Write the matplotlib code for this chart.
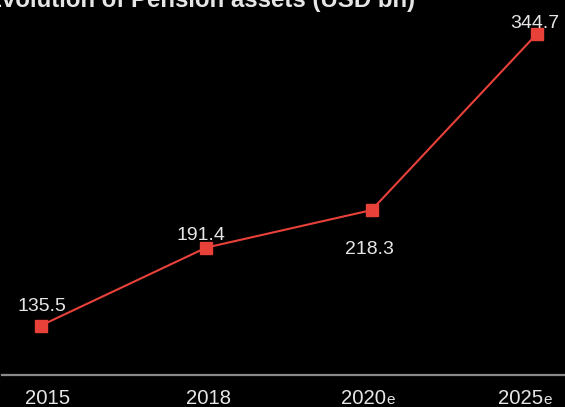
import matplotlib
matplotlib.use("Agg")
import matplotlib.pyplot as plt

years = ["2015", "2018", "2020", "2025"]
suffix = ["", "", "e", "e"]
values = [135.5, 191.4, 218.3, 344.7]
title = "Evolution of Pension assets (USD bn)"

# label offsets (points) relative to each marker: (dx, dy of baseline)
label_offsets = [(0.4, 10.1), (-3.6, 5.8), (-1.4, -31.7), (-1.8, 4.3)]
# tick label horizontal offsets (points) from the marker position
tick_dx = [4.7, 1.8, -6.1, -11.9]

W, H = 565, 407
fig = plt.figure(figsize=(W / 100, H / 100), dpi=100, facecolor="black")
ax = fig.add_axes([2 / W, (H - 375) / H, 1 - 2 / W, 375 / H])
ax.set_facecolor("black")

xs = list(range(len(values)))
red = "#e8413a"
txt = "#e6e6e6"
ax.plot(xs, values, color=red, lw=1.5, marker="s", ms=9, mec=red, mfc=red, zorder=3)

ax.set_xlim(-0.236, 3.17)
ax.set_ylim(100, 369)

for x, v, (dx, dy) in zip(xs, values, label_offsets):
    ax.annotate(f"{v:.1f}", (x, v), xytext=(dx, dy), textcoords="offset points",
                ha="center", va="baseline", color=txt, fontsize=14,
                family="Liberation Sans", zorder=4)

for s in ["top", "right", "left"]:
    ax.spines[s].set_visible(False)
ax.spines["bottom"].set_color("#8a8a8a")
ax.spines["bottom"].set_linewidth(1.6)
ax.set_yticks([])
ax.set_xticks([])

# tick labels with small "e" suffix
trans = ax.get_xaxis_transform()
for i, (yr, sf, dx) in enumerate(zip(years, suffix, tick_dx)):
    t = ax.annotate(yr, (i, 0), xycoords=trans, xytext=(dx, -21.2),
                    textcoords="offset points", ha="center", va="baseline",
                    color=txt, fontsize=14.6, family="Liberation Sans",
                    annotation_clip=False)
    if sf:
        ax.annotate(sf, xy=(1, 0), xycoords=t, xytext=(0.2, 0.8),
                    textcoords="offset points", ha="left", va="bottom",
                    color=txt, fontsize=11, family="Liberation Sans",
                    annotation_clip=False)

fig.text(-14 / W, 1 - 7 / H, title, ha="left", va="baseline", color=txt,
         fontsize=17.3, fontweight="bold", family="Liberation Sans")

fig.savefig("out.png", dpi=100, facecolor="black")
